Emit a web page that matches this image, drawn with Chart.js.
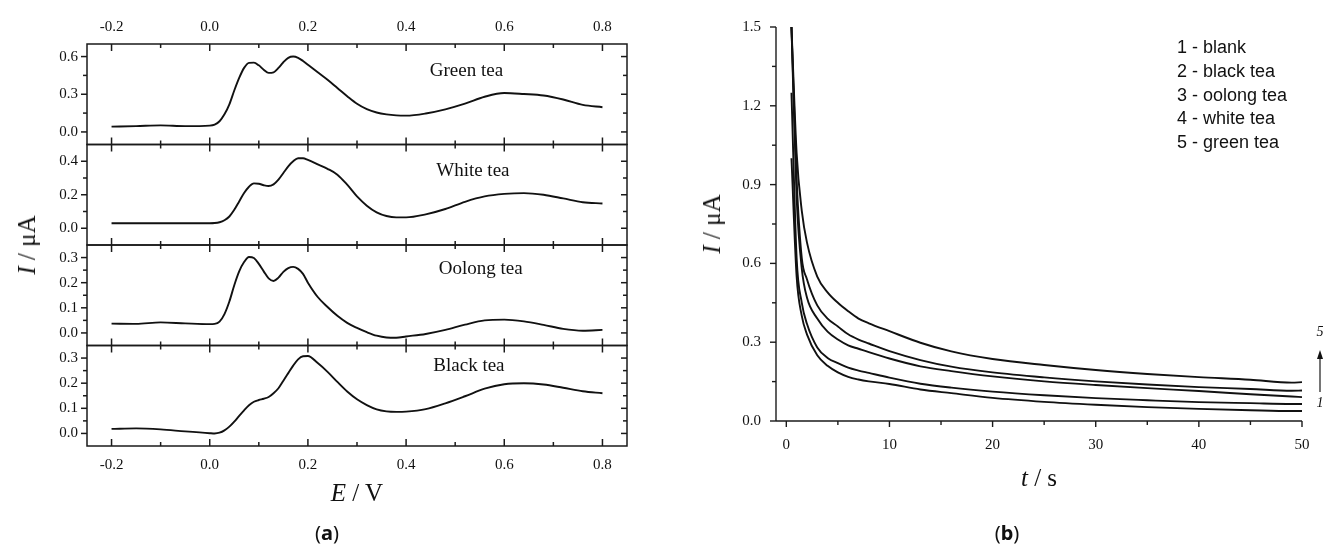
<!DOCTYPE html>
<html lang="en">
<head>
  <meta charset="UTF-8">
  <title>Tea samples: DPV and chronoamperometry</title>
  <script src="https://cdn.jsdelivr.net/npm/chart.js"></script>
  <style>
    body { margin: 0; background: #fff; }
    #page { position: relative; width: 1325px; height: 554px; overflow: hidden;
            font-family: "Liberation Serif", serif; color: #111; }
    .holder { position: absolute; top: 0; }
    .lbl { position: absolute; white-space: nowrap; transform: translate(-50%, -50%); }
    .axis-title { font-size: 25px; }
    .rot { transform: translate(-50%, -50%) rotate(-90deg); }
    .tag { font-family: "Noto Sans", sans-serif; font-size: 20px; }
    #legend { position: absolute; left: 1177px; top: 36px; font-family: "Liberation Sans", Arial, sans-serif;
              font-size: 18px; line-height: 23.75px; color: #111; }
  </style>
</head>
<body>
<div id="page">
  <div class="holder" style="left:0"><canvas id="dpv" width="660" height="554"></canvas></div>
  <div class="holder" style="left:660px"><canvas id="ca" width="665" height="554"></canvas></div>

  <div class="lbl axis-title" style="left:357px; top:493px"><i>E</i> / V</div>
  <div class="lbl axis-title rot" style="left:27px; top:245px"><i>I</i> / μA</div>
  <div class="lbl axis-title" style="left:1039px; top:478px"><i>t</i> / s</div>
  <div class="lbl axis-title rot" style="left:712px; top:224px"><i>I</i> / μA</div>
  <div class="lbl tag" style="left:327px; top:532px">(<b>a</b>)</div>
  <div class="lbl tag" style="left:1007px; top:532px">(<b>b</b>)</div>
  <div id="legend"></div>
</div>
<script>
  // ---- (a) differential pulse voltammograms ----
  const potentialV = [-0.2, -0.15, -0.1, -0.05, 0, 0.01, 0.02, 0.03, 0.04, 0.05, 0.06, 0.07, 0.08, 0.09,
    0.1, 0.11, 0.12, 0.13, 0.14, 0.15, 0.16, 0.17, 0.18, 0.19, 0.2, 0.22, 0.24, 0.26, 0.28, 0.3,
    0.32, 0.34, 0.36, 0.38, 0.4, 0.44, 0.48, 0.52, 0.56, 0.6, 0.64, 0.68, 0.72, 0.76, 0.8];
  const greenTea = [0.042, 0.046, 0.052, 0.046, 0.05, 0.058, 0.085, 0.14, 0.22, 0.33, 0.43, 0.51, 0.55, 0.552,
    0.53, 0.495, 0.47, 0.475, 0.51, 0.555, 0.59, 0.6, 0.59, 0.565, 0.535, 0.475, 0.415, 0.35, 0.285, 0.225,
    0.182, 0.155, 0.14, 0.132, 0.13, 0.147, 0.18, 0.225, 0.28, 0.31, 0.302, 0.29, 0.258, 0.215, 0.197];
  const whiteTea = [0.03, 0.03, 0.03, 0.03, 0.03, 0.031, 0.036, 0.048, 0.07, 0.11, 0.16, 0.21, 0.248, 0.268,
    0.266, 0.257, 0.252, 0.262, 0.29, 0.33, 0.37, 0.4, 0.418, 0.418, 0.408, 0.382, 0.355, 0.32, 0.26, 0.19,
    0.135, 0.095, 0.073, 0.065, 0.065, 0.083, 0.115, 0.158, 0.19, 0.205, 0.21, 0.2, 0.178, 0.155, 0.148];
  const oolongTea = [0.037, 0.036, 0.042, 0.038, 0.035, 0.036, 0.045, 0.075, 0.125, 0.19, 0.245, 0.282, 0.302, 0.298,
    0.275, 0.245, 0.217, 0.207, 0.22, 0.243, 0.258, 0.263, 0.255, 0.235, 0.2, 0.143, 0.103, 0.068, 0.04, 0.02,
    0.003, -0.011, -0.018, -0.019, -0.014, -0.004, 0.012, 0.033, 0.05, 0.053, 0.046, 0.032, 0.016, 0.009, 0.012];
  const blackTea = [0.018, 0.02, 0.016, 0.008, 0.001, 0.0, 0.003, 0.012, 0.027, 0.047, 0.07, 0.092, 0.112, 0.126,
    0.133, 0.138, 0.145, 0.16, 0.18, 0.21, 0.24, 0.27, 0.295, 0.307, 0.308, 0.28, 0.245, 0.205, 0.167, 0.136,
    0.113, 0.096, 0.088, 0.086, 0.087, 0.097, 0.12, 0.148, 0.178, 0.196, 0.2, 0.195, 0.182, 0.168, 0.16];
  const panelNames = ['Green tea', 'White tea', 'Oolong tea', 'Black tea'];
  const panelSeries = [greenTea, whiteTea, oolongTea, blackTea];
  const panelTicks = [[0, 0.3, 0.6], [0, 0.2, 0.4], [0, 0.1, 0.2, 0.3], [0, 0.1, 0.2, 0.3]];
  const panelRanges = [[-0.1, 0.7], [-0.1, 0.5], [-0.05, 0.35], [-0.05, 0.35]];
  const potentialTicks = [-0.2, 0, 0.2, 0.4, 0.6, 0.8];

  // ---- (b) chronoamperograms ----
  const timeS = [0.5, 1, 1.5, 2, 3, 4, 5, 6, 7, 8, 10, 13, 16, 20, 25, 30, 35, 40, 45, 49, 50];
  const blankI = [1.0, 0.55, 0.4, 0.33, 0.25, 0.21, 0.185, 0.168, 0.158, 0.151, 0.141, 0.12, 0.106, 0.088, 0.073, 0.062, 0.053, 0.046, 0.041, 0.038, 0.038];
  const blackI = [1.25, 0.62, 0.45, 0.37, 0.28, 0.24, 0.22, 0.203, 0.192, 0.183, 0.165, 0.142, 0.127, 0.112, 0.098, 0.087, 0.079, 0.072, 0.068, 0.065, 0.065];
  const oolongI = [1.5, 0.85, 0.58, 0.47, 0.39, 0.34, 0.31, 0.288, 0.275, 0.262, 0.238, 0.208, 0.19, 0.17, 0.151, 0.137, 0.125, 0.114, 0.102, 0.093, 0.091];
  const whiteI = [1.5, 0.92, 0.62, 0.54, 0.44, 0.39, 0.36, 0.33, 0.31, 0.295, 0.266, 0.232, 0.207, 0.185, 0.166, 0.151, 0.139, 0.129, 0.122, 0.115, 0.116];
  const greenI = [1.5, 1.02, 0.8, 0.68, 0.55, 0.49, 0.45, 0.418, 0.39, 0.372, 0.342, 0.298, 0.265, 0.236, 0.213, 0.194, 0.179, 0.167, 0.157, 0.146, 0.148];
  const transientNames = ['1 - blank', '2 - black tea', '3 - oolong tea', '4 - white tea', '5 - green tea'];
  const transientSeries = [blankI, blackI, oolongI, whiteI, greenI];
  const timeTicks = [0, 10, 20, 30, 40, 50];
  const currentTicks = [0, 0.3, 0.6, 0.9, 1.2, 1.5];

  const INK = '#111';
  const TICK_FONT = { family: 'Liberation Serif', size: 15 };
  // where the panel names sit: centre potential and drop below the panel top
  const nameAt = [[0.523, 27], [0.536, 27], [0.552, 24], [0.528, 21]];

  function midpoints(arr) {
    const out = [];
    for (let i = 1; i < arr.length; i++) out.push((arr[i - 1] + arr[i]) / 2);
    return out;
  }
  function fixedTicks(values) {
    return function(scale) { scale.ticks = values.map(v => ({ value: v })); };
  }
  function seg(ctx, x1, y1, x2, y2) {
    ctx.beginPath(); ctx.moveTo(x1, y1); ctx.lineTo(x2, y2); ctx.stroke();
  }
  const noGrid = { display: false, drawTicks: false };

  // stacked panel axes: later ids end up on top, so they are added bottom -> top
  const panelIds = ['yGreen', 'yWhite', 'yOolong', 'yBlack'];
  const dpvScales = {
    x: {
      type: 'linear', position: 'bottom', min: -0.25, max: 0.85,
      grid: noGrid, border: { display: false },
      afterBuildTicks: fixedTicks(potentialTicks),
      afterFit: s => { s.height = 108; },
      ticks: { padding: 10, color: INK, font: TICK_FONT, callback: v => v.toFixed(1) }
    },
    x2: {
      type: 'linear', position: 'top', min: -0.25, max: 0.85,
      grid: noGrid, border: { display: false },
      afterBuildTicks: fixedTicks(potentialTicks),
      afterFit: s => { s.height = 44; },
      ticks: { padding: 8, color: INK, font: TICK_FONT, callback: v => v.toFixed(1) }
    }
  };
  for (let k = panelIds.length - 1; k >= 0; k--) {
    dpvScales[panelIds[k]] = {
      type: 'linear', position: 'left', stack: 'tea', stackWeight: 1,
      min: panelRanges[k][0], max: panelRanges[k][1],
      grid: noGrid, border: { display: false },
      afterBuildTicks: fixedTicks(panelTicks[k]),
      afterFit: s => { s.width = 87; },
      ticks: { padding: 9, color: INK, font: TICK_FONT, callback: v => v.toFixed(1) }
    };
  }

  const teaFrame = {
    id: 'teaFrame',
    afterDatasetsDraw(chart) {
      const { ctx, chartArea: a, scales } = chart;
      const sx = scales.x;
      ctx.save();
      ctx.strokeStyle = '#1a1a1a';
      ctx.lineWidth = 1.5;
      panelIds.forEach((id, k) => {
        const s = scales[id];
        ctx.strokeRect(a.left, s.top, a.right - a.left, s.bottom - s.top);
        potentialTicks.forEach(v => {
          const p = sx.getPixelForValue(v);
          seg(ctx, p, s.top, p, s.top + 7); seg(ctx, p, s.bottom, p, s.bottom - 7);
        });
        midpoints(potentialTicks).forEach(v => {
          const p = sx.getPixelForValue(v);
          seg(ctx, p, s.top, p, s.top + 4); seg(ctx, p, s.bottom, p, s.bottom - 4);
        });
        panelTicks[k].forEach(v => {
          const p = s.getPixelForValue(v);
          seg(ctx, a.left - 6, p, a.left, p); seg(ctx, a.right - 6, p, a.right, p);
        });
        midpoints(panelTicks[k]).forEach(v => {
          const p = s.getPixelForValue(v);
          seg(ctx, a.left - 4, p, a.left, p); seg(ctx, a.right - 4, p, a.right, p);
        });
        ctx.font = '19px "Liberation Serif"';
        ctx.fillStyle = INK;
        ctx.textAlign = 'center';
        ctx.textBaseline = 'middle';
        ctx.fillText(panelNames[k], sx.getPixelForValue(nameAt[k][0]), s.top + nameAt[k][1]);
      });
      ctx.restore();
    }
  };

  new Chart(document.getElementById('dpv'), {
    type: 'line',
    data: {
      datasets: panelSeries.map((series, k) => ({
        label: panelNames[k],
        data: potentialV.map((e, i) => ({ x: e, y: series[i] })),
        xAxisID: 'x', yAxisID: panelIds[k],
        borderColor: INK, borderWidth: 1.9, pointRadius: 0,
        cubicInterpolationMode: 'monotone', fill: false
      }))
    },
    options: {
      responsive: false, animation: false, devicePixelRatio: 1,
      layout: { padding: { top: 0, right: 33, bottom: 0, left: 0 } },
      scales: dpvScales,
      plugins: { legend: { display: false }, tooltip: { enabled: false } }
    },
    plugins: [teaFrame]
  });

  // ---- right chart ----
  const caAxes = {
    id: 'caAxes',
    afterDatasetsDraw(chart) {
      const { ctx, chartArea: a, scales: { x, y } } = chart;
      ctx.save();
      ctx.strokeStyle = '#1a1a1a';
      ctx.lineWidth = 1.4;
      seg(ctx, a.left, a.top, a.left, a.bottom);
      seg(ctx, a.left, a.bottom, a.right, a.bottom);
      timeTicks.forEach(v => { const p = x.getPixelForValue(v); seg(ctx, p, a.bottom, p, a.bottom + 6); });
      midpoints(timeTicks).forEach(v => { const p = x.getPixelForValue(v); seg(ctx, p, a.bottom, p, a.bottom + 4); });
      currentTicks.forEach(v => { const p = y.getPixelForValue(v); seg(ctx, a.left - 6, p, a.left, p); });
      midpoints(currentTicks).forEach(v => { const p = y.getPixelForValue(v); seg(ctx, a.left - 4, p, a.left, p); });

      // arrow showing curve order 1 -> 5
      const ax = a.right + 18;
      const yTop = y.getPixelForValue(0.27), yBot = y.getPixelForValue(0.11);
      ctx.lineWidth = 1.2;
      seg(ctx, ax, yBot, ax, yTop + 6);
      ctx.fillStyle = INK;
      ctx.beginPath(); ctx.moveTo(ax, yTop); ctx.lineTo(ax - 3, yTop + 9); ctx.lineTo(ax + 3, yTop + 9); ctx.closePath(); ctx.fill();
      ctx.font = 'italic 14px "Liberation Serif"';
      ctx.textAlign = 'center'; ctx.textBaseline = 'middle';
      ctx.fillText('5', ax, y.getPixelForValue(0.339));
      ctx.fillText('1', ax, y.getPixelForValue(0.069));
      ctx.restore();
    }
  };

  new Chart(document.getElementById('ca'), {
    type: 'line',
    data: {
      datasets: transientSeries.map((series, k) => ({
        label: transientNames[k],
        data: timeS.map((t, i) => ({ x: t, y: series[i] })),
        borderColor: INK, borderWidth: 1.9, pointRadius: 0,
        cubicInterpolationMode: 'monotone', fill: false
      }))
    },
    options: {
      responsive: false, animation: false, devicePixelRatio: 1,
      layout: { padding: { top: 27, right: 23, bottom: 0, left: 0 } },
      scales: {
        x: {
          type: 'linear', min: -1, max: 50,
          grid: noGrid, border: { display: false },
          afterBuildTicks: fixedTicks(timeTicks),
          afterFit: s => { s.height = 133; },
          ticks: { padding: 15, color: INK, font: TICK_FONT, callback: v => String(v) }
        },
        y: {
          type: 'linear', min: 0, max: 1.5,
          grid: noGrid, border: { display: false },
          afterBuildTicks: fixedTicks(currentTicks),
          afterFit: s => { s.width = 116; },
          ticks: { padding: 15, color: INK, font: TICK_FONT, callback: v => v.toFixed(1) }
        }
      },
      plugins: { legend: { display: false }, tooltip: { enabled: false } }
    },
    plugins: [caAxes]
  });

  document.getElementById('legend').innerHTML = transientNames.map(n => '<div>' + n + '</div>').join('');
</script>
</body>
</html>
